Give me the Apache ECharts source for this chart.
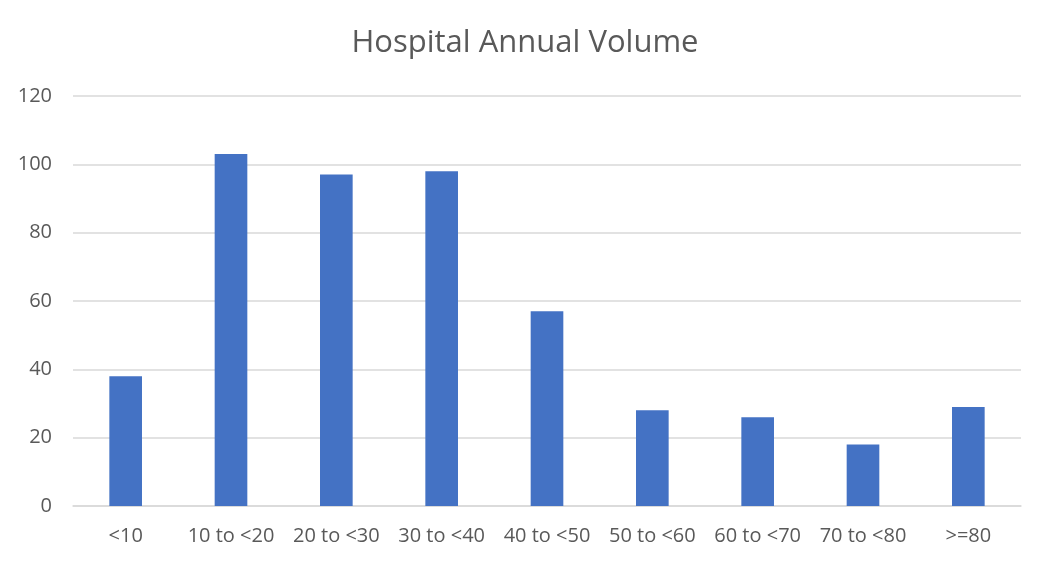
<!DOCTYPE html>
<html>
<head>
<meta charset="utf-8">
<script src="https://cdn.jsdelivr.net/npm/echarts@6/dist/echarts.min.js"></script>
<style>
html,body{margin:0;padding:0;background:#fff;}
#chart{width:1050px;height:566px;}
</style>
</head>
<body>
<div id="chart"></div>
<script>
var categories = ['<10', '10 to <20', '20 to <30', '30 to <40', '40 to <50', '50 to <60', '60 to <70', '70 to <80', '>=80'];
var volumes = [38, 103, 97, 98, 57, 28, 26, 18, 29];
var yTicks = { min: 0, max: 120, interval: 20 };

var chart = echarts.init(document.getElementById('chart'));
chart.setOption({
  animation: false,
  backgroundColor: '#ffffff',
  title: {
    text: 'Hospital Annual Volume',
    left: 'center',
    top: 23,
    textStyle: { fontFamily: 'Open Sans', fontSize: 31, fontWeight: 'normal', color: '#595959' }
  },
  grid: { left: 73, right: 29, top: 96, bottom: 60 },
  xAxis: {
    type: 'category',
    data: categories,
    axisLine: { show: true, lineStyle: { color: '#d9d9d9', width: 1.5 } },
    axisTick: { show: false },
    axisLabel: { color: '#595959', fontFamily: 'Open Sans', fontSize: 20, margin: 20, interval: 0 }
  },
  yAxis: {
    type: 'value',
    min: yTicks.min,
    max: yTicks.max,
    interval: yTicks.interval,
    axisLine: { show: false },
    axisTick: { show: false },
    splitLine: { lineStyle: { color: '#d9d9d9', width: 1.5 } },
    axisLabel: { color: '#595959', fontFamily: 'Open Sans', fontSize: 20, margin: 21 }
  },
  series: [{
    type: 'bar',
    data: volumes,
    barWidth: '31%',
    itemStyle: { color: '#4472c4' }
  }]
});
</script>
</body>
</html>
